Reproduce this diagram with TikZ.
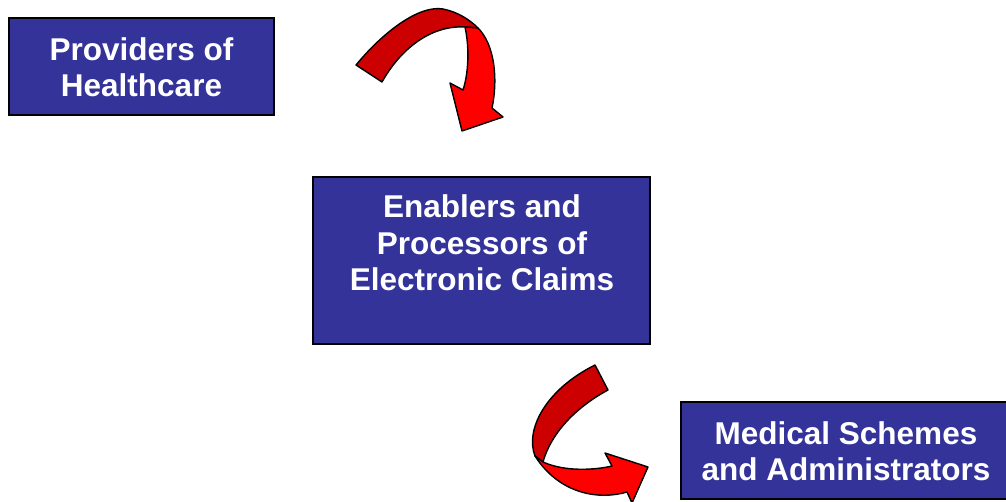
\documentclass[tikz,border=0pt]{standalone}
\usepackage{fontspec}
\setmainfont{Liberation Sans}
\begin{document}
\begin{tikzpicture}[x=1pt,y=-1pt,
  box/.style={draw=black,line width=2pt,fill=boxblue},
  label/.style={text=white,font=\fontsize{31.5}{36.5}\selectfont\bfseries,align=center},
  shade/.style={draw=black,line width=1.4pt,line join=round,fill=darkred},
  bright/.style={draw=black,line width=1.4pt,line join=round,fill=brightred}]
\definecolor{boxblue}{HTML}{333399}
\definecolor{darkred}{HTML}{CC0000}
\definecolor{brightred}{HTML}{FF0000}
\useasboundingbox (0,0) rectangle (1006,502);
\clip (0,0) rectangle (1006,502);

% the three parties
\draw[box] (9,18) rectangle (274,115);
\node[label] (prov) at (141.5,67) {Providers of\\Healthcare};

\draw[box] (313,177) rectangle (650,344);
\node[label] (enab) at (482,243) {Enablers and\\Processors of\\Electronic Claims};

\draw[box] (681,402) rectangle (1012,499);
\node[label] (med) at (846,451) {Medical Schemes\\and Administrators};

% upper curved arrow: back band, then front band with head
\draw[shade] (356,65) .. controls (385,30) and (420,5) .. (443,9)
  .. controls (458,12) and (470,20) .. (478,28) -- (465,27)
  .. controls (430,25) and (400,50) .. (382,82) -- cycle;
\draw[bright] (465,27) .. controls (470,50) and (468,75) .. (463,90)
  -- (450,83) -- (462,131) -- (503,117) -- (492,108)
  .. controls (498,80) and (495,45) .. (478,28) -- cycle;

% lower curved arrow
\draw[shade] (595,365) -- (608,390)
  .. controls (580,405) and (552,430) .. (543,462) -- (535,456)
  .. controls (525,430) and (545,390) .. (595,365) -- cycle;
\draw[bright] (543,462) .. controls (565,472) and (595,470) .. (612,466)
  -- (605,453) -- (648,467) -- (632,503) -- (627,492)
  .. controls (600,500) and (560,495) .. (535,456) -- cycle;
\end{tikzpicture}
\end{document}
